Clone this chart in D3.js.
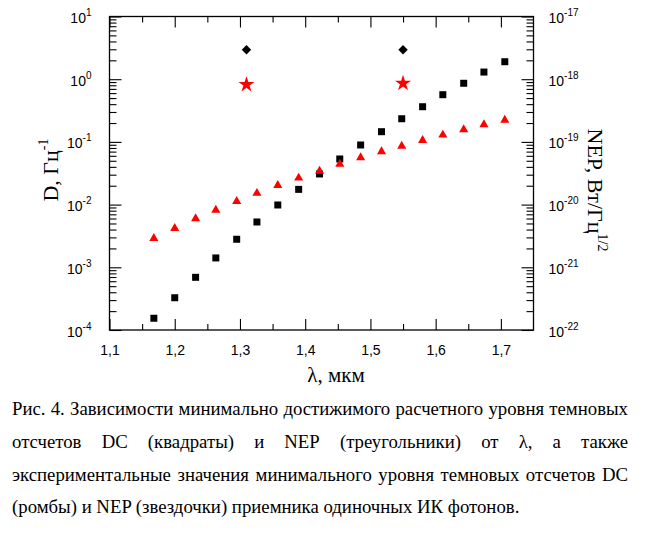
<!DOCTYPE html>
<html><head><meta charset="utf-8">
<script src="https://cdn.jsdelivr.net/npm/d3@7"></script>
<style>
html,body{margin:0;padding:0;background:#fff;}
svg{display:block;}
</style></head>
<body>
<svg id="chart" width="648" height="550"></svg>
<script>
// ---- data ----
const lambda = [1.168,1.200,1.232,1.263,1.295,1.326,1.358,1.390,1.422,1.453,1.485,1.517,1.548,1.580,1.611,1.643,1.674,1.706];
const dcCalc = [1.54e-4,3.27e-4,6.92e-4,1.41e-3,2.80e-3,5.28e-3,9.86e-3,0.0175,0.0308,0.0534,0.0893,0.1455,0.234,0.364,0.566,0.861,1.30,1.90];
const nepCalc = [2.90e-21,4.19e-21,5.98e-21,8.2e-21,1.13e-20,1.52e-20,2.03e-20,2.66e-20,3.43e-20,4.44e-20,5.62e-20,7.0e-20,8.6e-20,1.06e-19,1.29e-19,1.57e-19,1.89e-19,2.23e-19];
const lambdaExp = [1.31, 1.55];
const dcExp = [2.95, 2.95];
const nepExp = [8.2e-19, 8.6e-19];
const xTicks = [1.1,1.2,1.3,1.4,1.5,1.6,1.7];
const xTickLabels = ["1,1","1,2","1,3","1,4","1,5","1,6","1,7"];
const xMinor = [1.15,1.25,1.35,1.45,1.55,1.65];
const leftExp = [-4,-3,-2,-1,0,1];
const rightExp = [-22,-21,-20,-19,-18,-17];
const captionLines = [
  "Рис. 4. Зависимости минимально достижимого расчетного уровня темновых",
  "отсчетов DC (квадраты) и NEP (треугольники) от λ, а также",
  "экспериментальные значения минимального уровня темновых отсчетов DC",
  "(ромбы) и NEP (звездочки) приемника одиночных ИК фотонов."
];

const svg = d3.select("#chart");
const L = 109.5, R = 533.5, T = 16.5, B = 330;
const x = d3.scaleLinear().domain([1.1, 1.75]).range([L, R]);
const yL = d3.scaleLog().domain([1e-4, 10]).range([B, T]);
const yR = d3.scaleLog().domain([1e-22, 1e-17]).range([B, T]);

function minorsLog(exps){
  const m=[];
  for (let i=0;i<exps.length-1;i++) for (let k=2;k<=9;k++) m.push(k*Math.pow(10,exps[i]));
  return m;
}
const sans = "'Liberation Sans', Arial, sans-serif";
const serif = "'Liberation Serif', 'Times New Roman', serif";

function styleAxis(g){
  g.select(".domain").remove();
  g.selectAll(".tick line").attr("stroke","#000").attr("stroke-width",1.1);
}
// bottom
svg.append("g").attr("transform",`translate(0,${B})`)
  .call(d3.axisBottom(x).tickValues(xTicks).tickSizeInner(-11).tickSizeOuter(0).tickPadding(0).tickFormat((d,i)=>xTickLabels[i]))
  .call(styleAxis)
  .call(g=>g.selectAll("text").attr("dy",null).attr("y",25).attr("fill","#000")
    .style("font-family",sans).style("font-size","14px"));
svg.append("g").attr("transform",`translate(0,${B})`)
  .call(d3.axisBottom(x).tickValues(xMinor).tickSizeInner(-6).tickSizeOuter(0).tickFormat(""))
  .call(styleAxis);
// top
svg.append("g").attr("transform",`translate(0,${T})`)
  .call(d3.axisTop(x).tickValues(xTicks).tickSizeInner(-11).tickSizeOuter(0).tickFormat(""))
  .call(styleAxis);
svg.append("g").attr("transform",`translate(0,${T})`)
  .call(d3.axisTop(x).tickValues(xMinor).tickSizeInner(-6).tickSizeOuter(0).tickFormat(""))
  .call(styleAxis);

function supLabel(sel){
  sel.selectAll(".tick text").each(function(d){
    const t=d3.select(this);
    const e=Math.round(Math.log10(d));
    t.text(null).attr("dy",null).attr("y",6).attr("fill","#000")
      .style("font-family",sans).style("font-size","14px");
    t.append("tspan").text("10");
    t.append("tspan").attr("dy",-7).style("font-size","10px").text(String(e));
  });
}
// left
svg.append("g").attr("transform",`translate(${L},0)`)
  .call(d3.axisLeft(yL).tickValues(leftExp.map(e=>Math.pow(10,e))).tickSizeInner(-12).tickSizeOuter(0).tickPadding(18))
  .call(styleAxis).call(g=>supLabel(g));
svg.append("g").attr("transform",`translate(${L},0)`)
  .call(d3.axisLeft(yL).tickValues(minorsLog(leftExp)).tickSizeInner(-7).tickSizeOuter(0).tickFormat(""))
  .call(styleAxis);
// right
svg.append("g").attr("transform",`translate(${R},0)`)
  .call(d3.axisRight(yR).tickValues(rightExp.map(e=>Math.pow(10,e))).tickSizeInner(-12).tickSizeOuter(0).tickPadding(15))
  .call(styleAxis).call(g=>supLabel(g));
svg.append("g").attr("transform",`translate(${R},0)`)
  .call(d3.axisRight(yR).tickValues(minorsLog(rightExp)).tickSizeInner(-7).tickSizeOuter(0).tickFormat(""))
  .call(styleAxis);

// frame
svg.append("rect").attr("x",L).attr("y",T).attr("width",R-L).attr("height",B-T)
  .attr("fill","none").attr("stroke","#000").attr("stroke-width",1.3);

// marks
const sq = d3.symbol().type(d3.symbolSquare).size(49);
svg.append("g").selectAll("path").data(lambda).join("path")
  .attr("d",sq).attr("fill","#000")
  .attr("transform",(d,i)=>`translate(${x(d)},${yL(dcCalc[i])})`);
const tri = d3.symbol().type(d3.symbolTriangle).size(36);
svg.append("g").selectAll("path").data(lambda).join("path")
  .attr("d",tri).attr("fill","#ff0000")
  .attr("transform",(d,i)=>`translate(${x(d)},${yR(nepCalc[i])})`);
const dia = d3.symbol().type(d3.symbolSquare).size(44);
svg.append("g").selectAll("path").data(lambdaExp).join("path")
  .attr("d",dia).attr("fill","#000")
  .attr("transform",(d,i)=>`translate(${x(d)},${yL(dcExp[i])}) rotate(45)`);
const star = d3.symbol().type(d3.symbolStar).size(80);
svg.append("g").selectAll("path").data(lambdaExp).join("path")
  .attr("d",star).attr("fill","#ff0000")
  .attr("transform",(d,i)=>`translate(${x(d)},${yR(nepExp[i])})`);

// axis titles
const lt = svg.append("text").attr("transform","translate(58,170) rotate(-90)")
  .attr("text-anchor","middle").style("font-family",serif).style("font-size","22px").attr("fill","#000");
lt.append("tspan").text("D, Гц");
lt.append("tspan").attr("dy",-10).style("font-size","14px").text("-1");

const rt = svg.append("text").attr("transform","translate(588,190) rotate(90)")
  .attr("text-anchor","middle").style("font-family",serif).style("font-size","22px").attr("fill","#000");
rt.append("tspan").text("NEP, Вт/Гц");
rt.append("tspan").attr("dy",-10).style("font-size","14px").text("1/2");

svg.append("text").attr("x",336).attr("y",382).attr("text-anchor","middle")
  .style("font-family",serif).style("font-size","21px").attr("fill","#000").text("λ, мкм");

// caption
const capX0 = 12, capX1 = 628, capBase = [415,448,480.5,513];
const probe = svg.append("text").style("font-family",serif).style("font-size","16px").text(captionLines[3]);
const w16 = probe.node().getComputedTextLength();
probe.remove();
const capFs = 16*508/w16;
captionLines.forEach((line,li)=>{
  const g = svg.append("g");
  const words = line.split(" ");
  if (li===3){
    g.append("text").attr("x",capX0).attr("y",capBase[li]).style("font-family",serif)
      .style("font-size",capFs+"px").attr("fill","#000").text(line);
    return;
  }
  const nodes = words.map(w=>g.append("text").attr("y",capBase[li]).style("font-family",serif)
      .style("font-size",capFs+"px").attr("fill","#000").text(w));
  const widths = nodes.map(n=>n.node().getComputedTextLength());
  const total = d3.sum(widths);
  const gap = (capX1-capX0-total)/(words.length-1);
  let cx = capX0;
  nodes.forEach((n,i)=>{ n.attr("x",cx); cx += widths[i]+gap; });
});
</script>
</body></html>
